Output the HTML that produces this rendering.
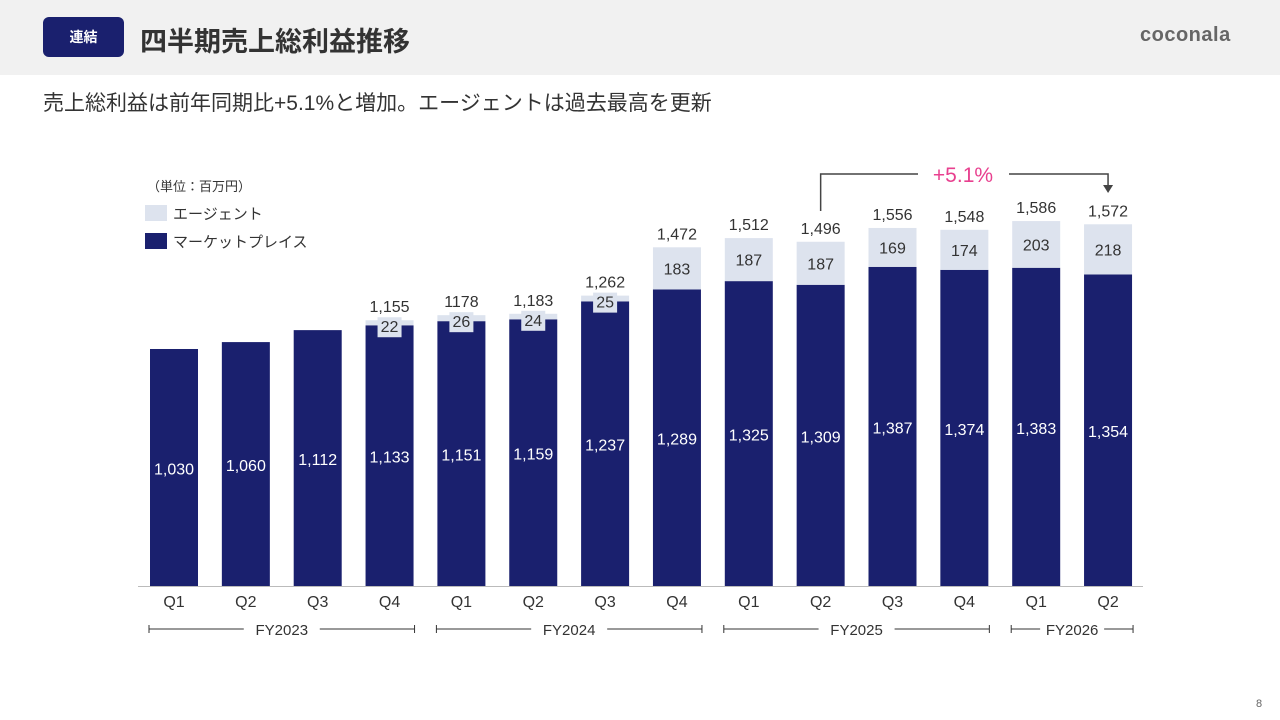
<!DOCTYPE html>
<html><head><meta charset="utf-8"><style>
body{margin:0;width:1280px;height:720px;background:#fff;font-family:"Liberation Sans","Noto Sans CJK JP",sans-serif;overflow:hidden;position:relative}
#hdr{position:absolute;left:0;top:0;width:1280px;height:75px;background:#f1f1f1}
#tag{position:absolute;left:43px;top:17px;width:81px;height:40px;background:#1a206e;border-radius:6px;color:#fff;font-size:14px;font-weight:bold;text-align:center;line-height:40px}
#title{position:absolute;left:140px;top:20px;font-size:27px;font-weight:bold;color:#333}
#logo{position:absolute;left:1140px;top:24px;font-size:20px;font-weight:bold;color:#666;letter-spacing:0.5px}
#sub{position:absolute;left:43px;top:87px;font-size:21px;color:#333}
#pg{position:absolute;left:1256px;top:698px;font-size:11px;color:#666}
svg{position:absolute;left:0;top:0}
</style></head><body>
<div id="hdr"></div>
<div id="tag">連結</div>
<div id="title">四半期売上総利益推移</div>
<div id="logo">coconala</div>
<div id="sub">売上総利益は前年同期比+5.1%と増加。エージェントは過去最高を更新</div>
<div id="pg">8</div>
<svg id="chart" width="1280" height="720"></svg>
<script>
const quarters=["Q1","Q2","Q3","Q4","Q1","Q2","Q3","Q4","Q1","Q2","Q3","Q4","Q1","Q2"];
const marketplace=[1030,1060,1112,1133,1151,1159,1237,1289,1325,1309,1387,1374,1383,1354];
const agent=[0,0,0,22,26,24,25,183,187,187,169,174,203,218];
const totalLabels=["","","","1,155","1178","1,183","1,262","1,472","1,512","1,496","1,556","1,548","1,586","1,572"];
const years=["FY2023","FY2024","FY2025","FY2026"];
const yearSpans=[[0,3],[4,7],[8,11],[12,13]];
const NS="http://www.w3.org/2000/svg";
const svg=document.getElementById('chart');
const base=586, scale=0.2301, x0=174, step=71.85, bw=48;
const xAt=i=>x0+i*step;
const yAt=v=>base-v*scale;
function mk(t,a,txt){const e=document.createElementNS(NS,t);for(const k in a)e.setAttribute(k,a[k]);if(txt!==undefined)e.textContent=txt;svg.appendChild(e);return e;}
const fmt=v=>v.toLocaleString('en-US');
let e;
e=mk('text',{x:147,y:191,'font-size':13,fill:'#333'},'（単位：百万円）');

e=mk('rect',{x:145,y:205,width:22,height:16,fill:'#dde3ee'});

e=mk('text',{x:173,y:219,'font-size':15,fill:'#333'},'エージェント');

e=mk('rect',{x:145,y:233,width:22,height:16,fill:'#1a206e'});

e=mk('text',{x:173,y:247,'font-size':15,fill:'#333'},'マーケットプレイス');

for(let i=0;i<quarters.length;i++){
  const cx=xAt(i), m=marketplace[i], a=agent[i];
  e=mk('rect',{x:cx-bw/2,y:yAt(m),width:bw,height:m*scale,fill:'#1a206e'});
  
  e=mk('text',{x:cx,y:(yAt(m)+base)/2+7,'font-size':16,fill:'#fff','text-anchor':'middle'},fmt(m));
  
  if(a>0){
    e=mk('rect',{x:cx-bw/2,y:yAt(m+a),width:bw,height:a*scale,fill:'#dde3ee'});
    
    let ly;
    if(a<60){
      ly=yAt(m+a)+12;
      e=mk('rect',{x:cx-12,y:ly-15,width:24,height:20,fill:'#dde3ee'});
      
    } else ly=(yAt(m+a)+yAt(m))/2+6;
    e=mk('text',{x:cx,y:ly,'font-size':16,fill:'#333','text-anchor':'middle'},fmt(a));
    
  }
  if(totalLabels[i]){
    e=mk('text',{x:cx,y:yAt(m+a)-8,'font-size':16,fill:'#333','text-anchor':'middle'},totalLabels[i]);
    
  }
  e=mk('text',{x:cx,y:607,'font-size':16,fill:'#333','text-anchor':'middle'},quarters[i]);
  
}
e=mk('line',{x1:138,x2:1143,y1:586.5,y2:586.5,stroke:'#bbb','stroke-width':1});

for(let k=0;k<years.length;k++){
  const [s,t]=yearSpans[k];
  const l=xAt(s)-25, r=xAt(t)+25, c=(l+r)/2;
  const half=k===3?32:38;
  e=mk('line',{x1:l,x2:c-half,y1:629,y2:629,stroke:'#333','stroke-width':1});
  
  e=mk('line',{x1:c+half,x2:r,y1:629,y2:629,stroke:'#333','stroke-width':1});
  
  mk('line',{x1:l,x2:l,y1:625,y2:633,stroke:'#333'});
  mk('line',{x1:r,x2:r,y1:625,y2:633,stroke:'#333'});
  e=mk('text',{x:c,y:635,'font-size':15,fill:'#333','text-anchor':'middle'},years[k]);
  
}
const gx1=xAt(9), gx2=xAt(13);
e=mk('polyline',{points:`${gx1},211 ${gx1},174 ${918},174`,fill:'none',stroke:'#444','stroke-width':1.5});

e=mk('polyline',{points:`1009,174 ${gx2},174 ${gx2},186`,fill:'none',stroke:'#444','stroke-width':1.5});

e=mk('polygon',{points:`${gx2-5},185 ${gx2+5},185 ${gx2},193`,fill:'#444'});

e=mk('text',{x:963,y:182,'font-size':21,fill:'#e8408f','text-anchor':'middle'},'+5.1%');

</script>
</body></html>
